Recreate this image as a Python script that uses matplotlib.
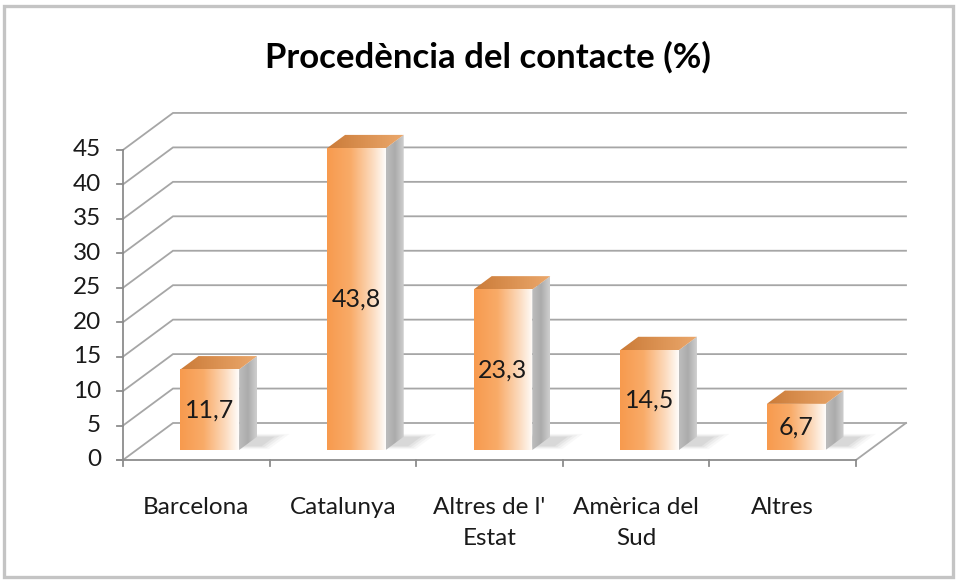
import numpy as np
import matplotlib
matplotlib.use("Agg")
import matplotlib.pyplot as plt
from matplotlib.patches import Polygon, Rectangle
from matplotlib.colors import LinearSegmentedColormap

# ---------------- data ----------------
categories = ["Barcelona", "Catalunya", "Altres de l'\nEstat", "Amèrica del\nSud", "Altres"]
values = [11.7, 43.8, 23.3, 14.5, 6.7]
value_labels = ["11,7", "43,8", "23,3", "14,5", "6,7"]
yticks = [0, 5, 10, 15, 20, 25, 30, 35, 40, 45]
title = "Procedència del contacte (%)"

# ---------------- layout (pseudo-3D projection) ----------------
W_PX, H_PX = 958, 581
X0, Y0 = 123.0, 460.0      # front-left origin of the floor
S = 6.89                   # px per unit on value axis
CW = 146.6                 # px per category
DX, DY = 50.0, -37.0       # depth offset (front->back)
D0, D1 = 0.27, 0.63        # bar depth range
BW = 0.40                  # bar width in category units
FONT = "Lato"


def P(c, v, d):
    return (X0 + c * CW + d * DX, Y0 - v * S + d * DY)


fig = plt.figure(figsize=(W_PX / 100, H_PX / 100), dpi=100)
ax = fig.add_axes([0, 0, 1, 1])
ax.set_axis_off()
ax.set_autoscale_on(False)
ax.set_xlim(0, W_PX)
ax.set_ylim(H_PX, 0)

# outer border
ax.add_patch(Rectangle((4, 6), 949, 571, fill=False, edgecolor="#C4C4C4", lw=2.4, zorder=0))

ncat = len(categories)
grid_col = "#A6A6A6"

# walls & gridlines
for t in yticks:
    f = P(0, t, 0)
    b = P(0, t, 1)
    r = P(ncat, t, 1)
    ax.plot([f[0], b[0], r[0]], [f[1], b[1], r[1]], color=grid_col, lw=1.3, zorder=1,
            solid_joinstyle="miter")

# floor outline (right & front)
fr = P(ncat, 0, 0)
br = P(ncat, 0, 1)
ax.plot([br[0], fr[0]], [br[1], fr[1]], color=grid_col, lw=1.3, zorder=1)
fl = P(0, 0, 0)
ax.plot([fl[0] - 6, fr[0]], [fl[1], fr[1]], color="#8C8C8C", lw=1.3, zorder=2)
# category ticks
for k in range(ncat + 1):
    p = P(k, 0, 0)
    ax.plot([p[0], p[0]], [p[1], p[1] + 6], color="#8C8C8C", lw=1.3, zorder=2)

# value axis
top = P(0, yticks[-1], 0)
ax.plot([fl[0], top[0]], [fl[1], top[1]], color="#8C8C8C", lw=1.3, zorder=2)
for t in yticks:
    p = P(0, t, 0)
    ax.plot([p[0] - 6, p[0]], [p[1], p[1]], color="#8C8C8C", lw=1.3, zorder=2)
    ax.text(p[0] - 22, p[1], str(t), ha="right", va="center", fontsize=17.5,
            family=FONT, color="#1a1a1a", zorder=5)

# colormaps
front_cmap = LinearSegmentedColormap.from_list(
    "front", [(0.0, "#F79A4E"), (0.4, "#F9AB68"), (0.78, "#FCDCC0"), (1.0, "#FFFDFB")])
top_cmap = LinearSegmentedColormap.from_list("top", ["#CB7B38", "#EBA86C"])
side_cmap = LinearSegmentedColormap.from_list("side", ["#BDBDBD", "#ABABAB", "#CFCFCF"])
grad = np.linspace(0, 1, 256).reshape(1, -1)


def grad_poly(pts, cmap, z):
    poly = Polygon(pts, closed=True, facecolor="none", edgecolor="none", zorder=z)
    ax.add_patch(poly)
    xs = [p[0] for p in pts]
    ys = [p[1] for p in pts]
    im = ax.imshow(grad, cmap=cmap, aspect="auto", interpolation="bilinear",
                   extent=[min(xs), max(xs), max(ys), min(ys)], zorder=z)
    im.set_clip_path(poly)


for i, (v, lab) in enumerate(zip(values, value_labels)):
    cl = i + 0.5 - BW / 2
    cr = i + 0.5 + BW / 2
    z = 10 + i
    # soft shadow on the floor
    for k, a in enumerate([0.05, 0.07, 0.09, 0.11]):
        e = (3 - k) * 0.025
        sh = [P(cl + 0.02, 0, D0 + 0.1 - e), P(cr + 0.12 + e, 0, D0 + 0.1 - e),
              P(cr + 0.12 + e, 0, D1 + e), P(cl + 0.02, 0, D1 + e)]
        ax.add_patch(Polygon(sh, closed=True, facecolor="#7F7F7F", edgecolor="none",
                             alpha=a, zorder=z - 0.5))
    front = [P(cl, 0, D0), P(cr, 0, D0), P(cr, v, D0), P(cl, v, D0)]
    side = [P(cr, 0, D0), P(cr, 0, D1), P(cr, v, D1), P(cr, v, D0)]
    topf = [P(cl, v, D0), P(cr, v, D0), P(cr, v, D1), P(cl, v, D1)]
    grad_poly(side, side_cmap, z)
    grad_poly(topf, top_cmap, z + 0.1)
    grad_poly(front, front_cmap, z + 0.2)
    lp = P(i + 0.5, v / 2, D0)
    ax.text(lp[0], lp[1], lab, ha="center", va="center", fontsize=18, family=FONT,
            color="#1a1a1a", zorder=z + 0.5)

# category labels
for i, c in enumerate(categories):
    p = P(i + 0.5, 0, 0)
    ax.text(p[0], 497, c, ha="center", va="top", fontsize=17.5, family=FONT,
            color="#1a1a1a", linespacing=1.6, zorder=5)

# title
ax.text(488, 57, title, ha="center", va="center", fontsize=25, fontweight="bold",
        family=FONT, color="#000000", zorder=5)

fig.savefig("out.png", dpi=100)
